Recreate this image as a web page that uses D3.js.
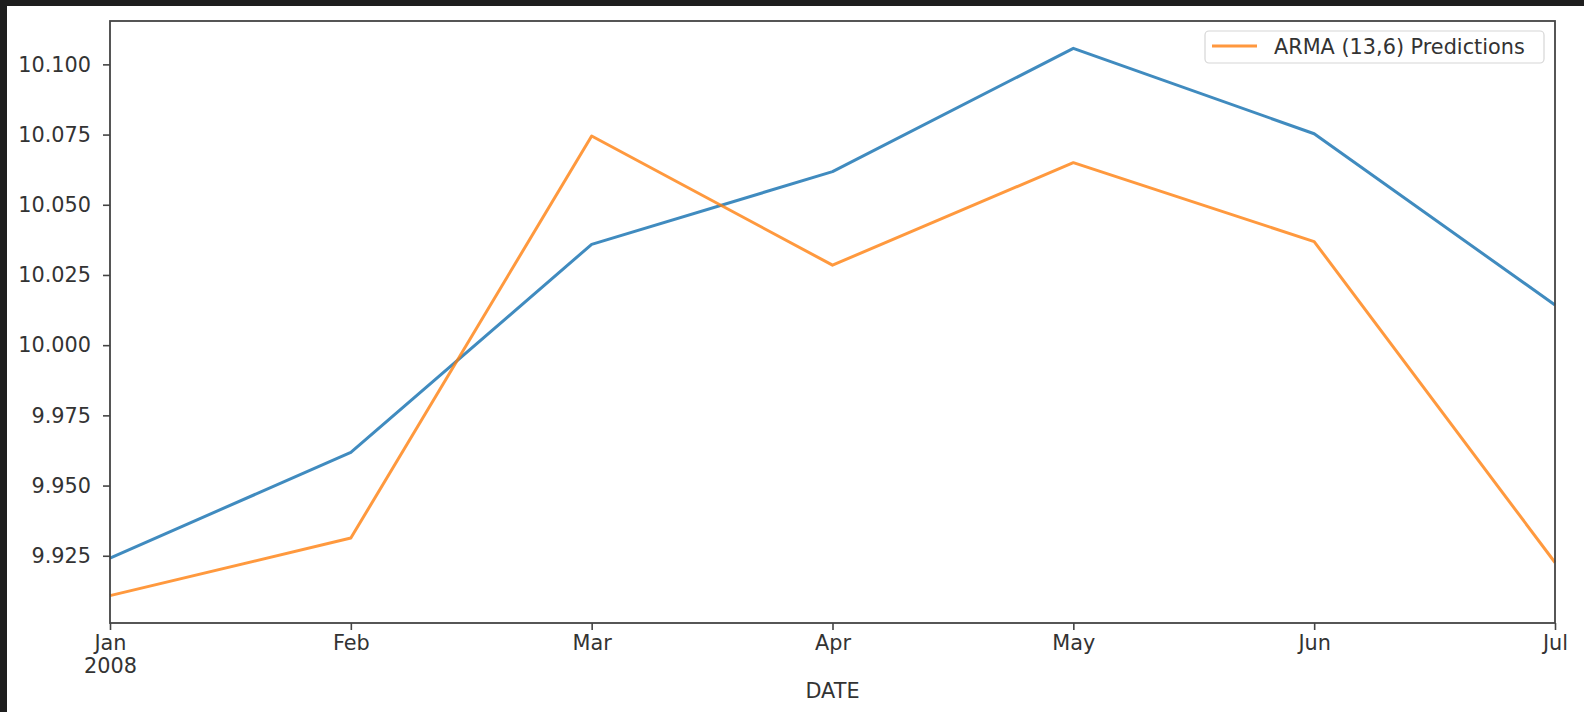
<!DOCTYPE html>
<html>
<head>
<meta charset="utf-8">
<script src="https://cdn.jsdelivr.net/npm/d3@7"></script>
<style>
  html, body { margin: 0; padding: 0; background: #1e1e1e; }
  svg { display: block; }
  text { font-family: "DejaVu Sans", sans-serif; fill: #333; }
</style>
</head>
<body>
<script>
// Monthly observations, Jan–Jul 2008
const months = ["Jan", "Feb", "Mar", "Apr", "May", "Jun", "Jul"];
const yearLabel = "2008";
const actual = [9.9242, 9.9618, 10.0359, 10.0618, 10.1057, 10.0753, 10.0143];
const predictions = [9.9108, 9.9313, 10.0745, 10.0285, 10.0650, 10.0369, 9.9226];
const yTicks = [9.925, 9.950, 9.975, 10.000, 10.025, 10.050, 10.075, 10.100];
const seriesLabel = "ARMA (13,6) Predictions";
const xAxisTitle = "DATE";

const W = 1584, H = 712;
const plot = { left: 110, right: 1555, top: 21, bottom: 623 };

const svg = d3.select("body").append("svg").attr("width", W).attr("height", H);

// white figure area inside the dark frame
svg.append("rect").attr("x", 7).attr("y", 6).attr("width", W - 7).attr("height", H - 6).attr("fill", "#fff");

const x = d3.scaleLinear().domain([0, months.length - 1]).range([plot.left, plot.right]);

const all = actual.concat(predictions);
const lo = d3.min(all), hi = d3.max(all), pad = (hi - lo) * 0.05;
const y = d3.scaleLinear().domain([lo - pad, hi + pad]).range([plot.bottom, plot.top]);

const fontSize = 20.8;
const textColor = "#333";

// y axis ticks and labels
const yAxis = svg.append("g").attr("transform", `translate(${plot.left},0)`)
  .call(d3.axisLeft(y).tickValues(yTicks).tickFormat(d3.format(".3f")).tickSize(7).tickPadding(12));
yAxis.select(".domain").remove();
yAxis.selectAll(".tick line").attr("stroke", "#444").attr("stroke-width", 1.6);
yAxis.selectAll(".tick text").style("font-size", fontSize + "px").style("font-family", "DejaVu Sans").attr("fill", textColor);

// x axis ticks and labels
const xAxis = svg.append("g").attr("transform", `translate(0,${plot.bottom})`)
  .call(d3.axisBottom(x).tickValues(d3.range(months.length)).tickFormat(i => months[i]).tickSize(7).tickPadding(5));
xAxis.select(".domain").remove();
xAxis.selectAll(".tick line").attr("stroke", "#444").attr("stroke-width", 1.6);
xAxis.selectAll(".tick text").style("font-size", fontSize + "px").style("font-family", "DejaVu Sans").attr("fill", textColor);
xAxis.selectAll(".tick").filter(i => i === 0).select("text")
  .append("tspan").attr("x", 0).attr("dy", "1.1em").text(yearLabel);

// axis title
svg.append("text").attr("x", (plot.left + plot.right) / 2).attr("y", 691)
  .attr("text-anchor", "middle").attr("dominant-baseline", "central")
  .style("font-size", fontSize + "px").attr("fill", textColor).text(xAxisTitle);

// series lines
const line = d3.line().x((d, i) => x(i)).y(d => y(d));
svg.append("path").datum(actual).attr("d", line)
  .attr("fill", "none").attr("stroke", "#1f77b4").attr("stroke-width", 3).attr("stroke-linejoin", "round").attr("opacity", 0.85);
svg.append("path").datum(predictions).attr("d", line)
  .attr("fill", "none").attr("stroke", "#ff7f0e").attr("stroke-width", 3).attr("stroke-linejoin", "round").attr("opacity", 0.8);

// frame
svg.append("rect").attr("x", plot.left).attr("y", plot.top)
  .attr("width", plot.right - plot.left).attr("height", plot.bottom - plot.top)
  .attr("fill", "none").attr("stroke", "#444").attr("stroke-width", 1.8);

// legend
const lg = svg.append("g");
lg.append("rect").attr("x", 1205).attr("y", 31).attr("width", 339).attr("height", 32).attr("rx", 4)
  .attr("fill", "#fff").attr("fill-opacity", 0.8).attr("stroke", "#d6d6d6").attr("stroke-width", 1.2);
lg.append("line").attr("x1", 1212).attr("x2", 1257).attr("y1", 46).attr("y2", 46)
  .attr("stroke", "#ff7f0e").attr("stroke-width", 3).attr("opacity", 0.8);
lg.append("text").attr("x", 1274).attr("y", 47).attr("dominant-baseline", "central")
  .style("font-size", fontSize + "px").attr("fill", textColor).text(seriesLabel);
</script>
</body>
</html>
